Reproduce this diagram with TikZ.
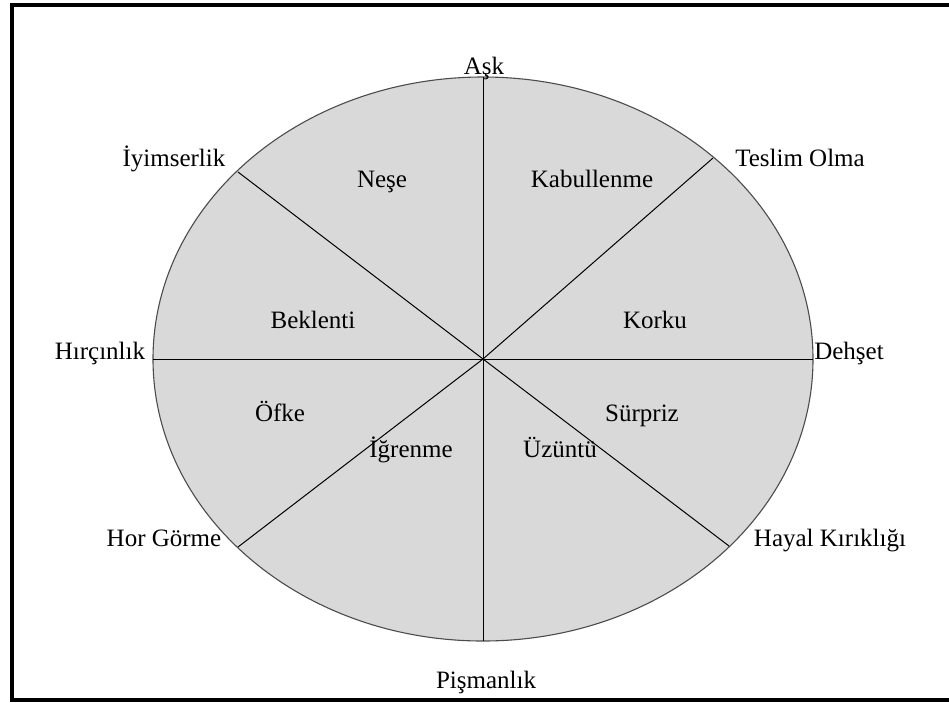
\documentclass[tikz,border=0pt]{standalone}
\usepackage{fontspec}
\usetikzlibrary{shapes.geometric}
\setmainfont{Liberation Serif}
\begin{document}
\begin{tikzpicture}[x=1pt,y=-1pt,
  lbl/.style={font=\fontsize{25}{29}\selectfont, inner sep=0pt, anchor=base},
  spoke/.style={draw=black, line width=1pt},
  rim/.style={draw=black!70, fill=black!15, line width=1.1pt},
  frame/.style={draw=black, line width=4pt}]
\useasboundingbox (0,0) rectangle (949,702);
\draw[frame] (12,702) -- (12,5) -- (949,5);
\draw[frame] (12,700) -- (949,700);
\node[rim, ellipse, minimum width=660pt, minimum height=564pt, inner sep=0pt] (E) at (483,359) {};
\coordinate (C) at (483,359);
\coordinate (T) at (483,77);
\coordinate (B) at (483,641);
\coordinate (L) at (153,359);
\coordinate (R) at (813,359);
\coordinate (UL) at (238,172);
\coordinate (UR) at (713,158);
\coordinate (LL) at (238,547);
\coordinate (LR) at (729,546);
\draw[spoke] (T) -- (B);
\draw[spoke] (L) -- (R);
\draw[spoke] (UL) -- (C) -- (LR);
\draw[spoke] (UR) -- (C) -- (LL);
% outer labels
\node[lbl] (l1) at (484,74) {Aşk};
\node[lbl] (l2) at (174,166) {İyimserlik};
\node[lbl] (l3) at (800,166) {Teslim Olma};
\node[lbl] (l4) at (100,359) {Hırçınlık};
\node[lbl] (l5) at (849,359) {Dehşet};
\node[lbl] (l6) at (164,546) {Hor Görme};
\node[lbl] (l7) at (830,546) {Hayal Kırıklığı};
\node[lbl] (l8) at (486,688) {Pişmanlık};
% inner labels
\node[lbl] (i1) at (382,187) {Neşe};
\node[lbl] (i2) at (592,187) {Kabullenme};
\node[lbl] (i3) at (313,328) {Beklenti};
\node[lbl] (i4) at (655,328) {Korku};
\node[lbl] (i5) at (280,421) {Öfke};
\node[lbl] (i6) at (642,421) {Sürpriz};
\node[lbl] (i7) at (411,457) {İğrenme};
\node[lbl] (i8) at (560,457) {Üzüntü};
\end{tikzpicture}
\end{document}
